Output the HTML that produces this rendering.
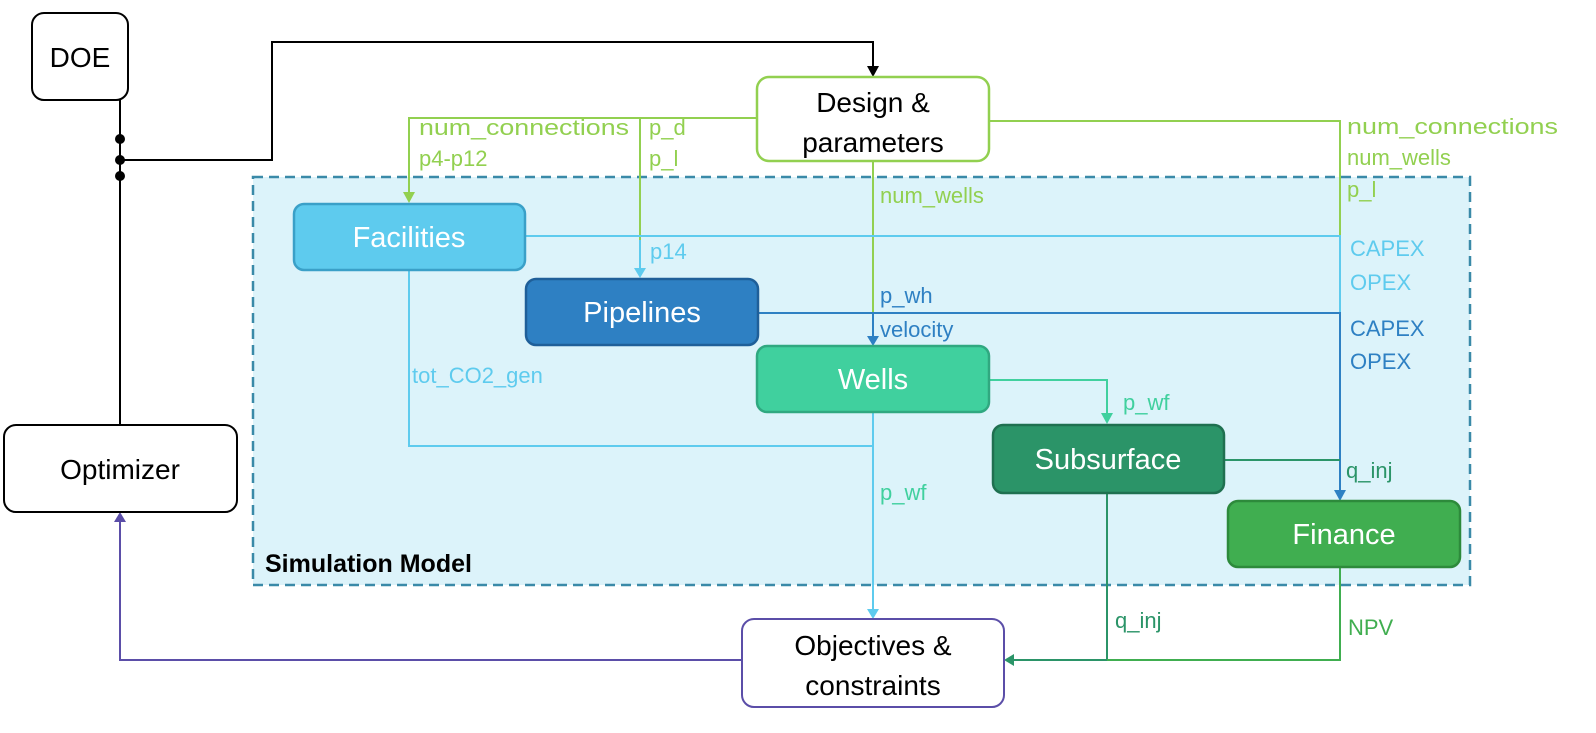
<!DOCTYPE html>
<html><head><meta charset="utf-8"><style>
html,body{margin:0;padding:0;background:#fff;}
svg{display:block;font-family:"Liberation Sans",sans-serif;}
</style></head><body>
<svg width="1596" height="733" viewBox="0 0 1596 733" xmlns="http://www.w3.org/2000/svg">
<rect x="253" y="177" width="1217" height="408" fill="#dcf3fa" stroke="#3a8aa8" stroke-width="2.5" stroke-dasharray="10,6"/>

<g stroke="#000" stroke-width="2" fill="none">
<line x1="120" y1="100" x2="120" y2="424"/>
<polyline points="120,160 272,160 272,42 873,42 873,68"/>
</g>
<path d="M867,66 L879,66 L873,77 z" fill="#000"/>
<circle cx="120" cy="139" r="5"/><circle cx="120" cy="160" r="5"/><circle cx="120" cy="176" r="5"/>

<g stroke="#92d050" stroke-width="2" fill="none">
<polyline points="757,118 409,118 409,194"/>
<line x1="640" y1="118" x2="640" y2="240"/>
<line x1="873" y1="161" x2="873" y2="313"/>
<polyline points="989,121 1340,121 1340,236"/>
</g>
<path d="M403,192 L415,192 L409,203 z" fill="#92d050"/>

<g stroke="#5ecbee" stroke-width="2" fill="none">
<line x1="640" y1="240" x2="640" y2="270"/>
<polyline points="525,236 1340,236 1340,313"/>
<polyline points="409,270 409,446 873,446"/>
<line x1="873" y1="412" x2="873" y2="610"/>
</g>
<path d="M634,268 L646,268 L640,278 z" fill="#5ecbee"/>
<path d="M867,609 L879,609 L873,619 z" fill="#5ecbee"/>

<g stroke="#2e80c3" stroke-width="2" fill="none">
<polyline points="758,313 1340,313 1340,492"/>
<line x1="873" y1="313" x2="873" y2="338"/>
</g>
<path d="M867,336 L879,336 L873,346 z" fill="#2e80c3"/>
<path d="M1334,490 L1346,490 L1340,501 z" fill="#2e80c3"/>

<polyline points="989,380 1107,380 1107,415" stroke="#40d09e" stroke-width="2" fill="none"/>
<path d="M1101,413 L1113,413 L1107,424 z" fill="#40d09e"/>

<g stroke="#2b9468" stroke-width="2" fill="none">
<line x1="1224" y1="460" x2="1340" y2="460"/>
<polyline points="1107,493 1107,660 1013,660"/>
</g>
<path d="M1014,654 L1014,666 L1004,660 z" fill="#2b9468"/>
<polyline points="1340,567 1340,660 1107,660" stroke="#40ae50" stroke-width="2" fill="none"/>

<polyline points="742,660 120,660 120,521" stroke="#5b4ea8" stroke-width="2" fill="none"/>
<path d="M114,522 L126,522 L120,512 z" fill="#5b4ea8"/>

<rect x="32" y="13" width="96" height="87" rx="12" fill="#fff" stroke="#000" stroke-width="2"/>
<text x="80" y="67" font-size="28" text-anchor="middle">DOE</text>
<rect x="4" y="425" width="233" height="87" rx="12" fill="#fff" stroke="#000" stroke-width="2"/>
<text x="120" y="479" font-size="28" text-anchor="middle">Optimizer</text>
<rect x="757" y="77" width="232" height="84" rx="12" fill="#fff" stroke="#92d050" stroke-width="2.5"/>
<text x="873" y="112" font-size="28" text-anchor="middle">Design &amp;</text>
<text x="873" y="152" font-size="28" text-anchor="middle">parameters</text>
<rect x="742" y="619" width="262" height="88" rx="12" fill="#fff" stroke="#5b4ea8" stroke-width="2"/>
<text x="873" y="655" font-size="28" text-anchor="middle">Objectives &amp;</text>
<text x="873" y="695" font-size="28" text-anchor="middle">constraints</text>

<rect x="294" y="204" width="231" height="66" rx="10" fill="#5ecbee" stroke="#3aa0c8" stroke-width="2.5"/>
<text x="409" y="247" font-size="29" fill="#fff" text-anchor="middle">Facilities</text>
<rect x="526" y="279" width="232" height="66" rx="10" fill="#2e80c3" stroke="#1f5f99" stroke-width="2.5"/>
<text x="642" y="322" font-size="29" fill="#fff" text-anchor="middle">Pipelines</text>
<rect x="757" y="346" width="232" height="66" rx="10" fill="#40d09e" stroke="#30a880" stroke-width="2.5"/>
<text x="873" y="389" font-size="29" fill="#fff" text-anchor="middle">Wells</text>
<rect x="993" y="425" width="231" height="68" rx="10" fill="#2b9468" stroke="#1f7050" stroke-width="2.5"/>
<text x="1108" y="469" font-size="29" fill="#fff" text-anchor="middle">Subsurface</text>
<rect x="1228" y="501" width="232" height="66" rx="10" fill="#40ae50" stroke="#2d8a3b" stroke-width="2.5"/>
<text x="1344" y="544" font-size="29" fill="#fff" text-anchor="middle">Finance</text>

<text x="265" y="572" font-size="25" font-weight="bold">Simulation Model</text>

<g font-size="22" fill="#92d050">
<text x="419" y="135" textLength="210" lengthAdjust="spacingAndGlyphs">num_connections</text>
<text x="419" y="166">p4-p12</text>
<text x="649" y="135">p_d</text>
<text x="649" y="166">p_l</text>
<text x="880" y="203">num_wells</text>
<text x="1347" y="134" textLength="211" lengthAdjust="spacingAndGlyphs">num_connections</text>
<text x="1347" y="165">num_wells</text>
<text x="1347" y="197">p_l</text>
</g>
<g font-size="22" fill="#5ecbee">
<text x="650" y="259">p14</text>
<text x="412" y="383">tot_CO2_gen</text>
<text x="1350" y="256">CAPEX</text>
<text x="1350" y="290">OPEX</text>
</g>
<g font-size="22" fill="#2e80c3">
<text x="880" y="303">p_wh</text>
<text x="880" y="337">velocity</text>
<text x="1350" y="336">CAPEX</text>
<text x="1350" y="369">OPEX</text>
</g>
<g font-size="22" fill="#40d09e">
<text x="1123" y="410">p_wf</text>
<text x="880" y="500">p_wf</text>
</g>
<g font-size="22" fill="#2b9468">
<text x="1346" y="478">q_inj</text>
<text x="1115" y="628">q_inj</text>
</g>
<text x="1348" y="635" font-size="22" fill="#40ae50">NPV</text>
</svg>
</body></html>
